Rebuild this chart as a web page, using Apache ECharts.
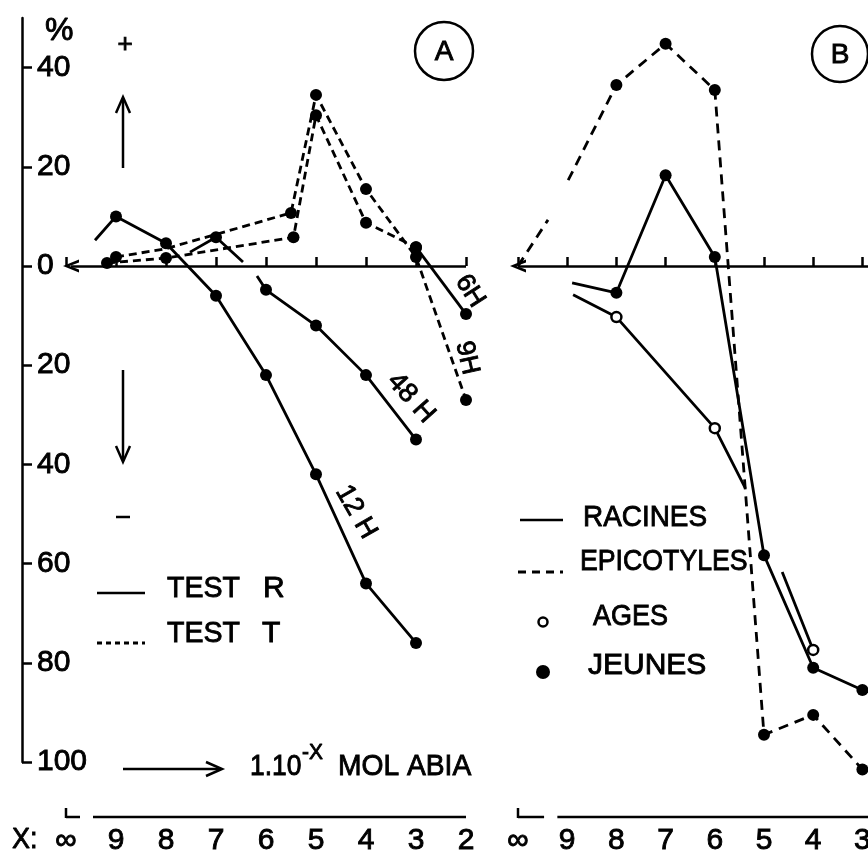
<!DOCTYPE html>
<html><head><meta charset="utf-8">
<script src="https://cdn.jsdelivr.net/npm/echarts@6/dist/echarts.min.js"></script>
<style>html,body{margin:0;padding:0;background:#fff}#c{width:868px;height:858px}</style>
</head><body><div id="c"></div>
<script>
// ---------- DATA (x = exponent X of 1.10^-X mol ABIA; 10 stands for the control "∞") ----------
const xTicks = [9, 8, 7, 6, 5, 4, 3, 2];
const yTicks = [-100, -80, -60, -40, -20, 0, 20, 40];

// Panel A - TEST R (solid)
const a12H_x = [9.42, 9, 8, 7, 6, 5, 4, 3];
const a12H_y = [5.2, 10, 4.6, -6, -22, -42, -64, -76];
const a12H_m = [0, 1, 1, 1, 1, 1, 1, 1];

const a48H_x = [7.52, 7, 6.46, 6.32, 6.18, 6, 5, 4, 3];
const a48H_y = [2.8, 5.8, 0.8, null, -2, -4.8, -12, -22, -35];
const a48H_m = [0, 1, 0, 0, 0, 1, 1, 1, 1];

const a6H_x = [3, 2];
const a6H_y = [3.8, -9.7];
const a6H_m = [1, 1];

// Panel A - TEST T (dashed)
const a9H_x = [9, 8, 5.5, 5, 4, 3, 2];
const a9H_y = [1.8, 3.5, 10.7, 34.5, 15.5, 1.8, -27];
const a9H_m = [1, 0, 1, 1, 1, 1, 1];

const aT6H_x = [9.18, 8, 5.45, 5, 4, 3];
const aT6H_y = [0.6, 1.6, 5.8, 30.4, 8.7, 3.8];
const aT6H_m = [1, 1, 1, 1, 1, 1];

// Panel B
const bEpi_x = [10, 9.39, 9.18, 8.98, 8, 7, 6, 5, 4, 3];
const bEpi_y = [0, 9.3, null, 17.3, 36.5, 44.8, 35.5, -94.5, -90.5, -101.5];
const bEpi_m = [0, 0, 0, 0, 1, 1, 1, 1, 1, 1];

const bRacJ_x = [8.9, 8, 7, 6, 5, 4, 3];
const bRacJ_y = [-3.4, -5.4, 18.3, 1.8, -58.3, -81, -85.5];
const bRacJ_m = [0, 1, 1, 1, 1, 1, 1];

const bRacA_x = [8.88, 8, 6, 5.38, 5.0, 4.63, 4];
const bRacA_y = [-5.8, -10.3, -32.7, -44.8, null, -61.7, -77.4];
const bRacA_m = [0, 1, 1, 0, 0, 0, 1];

const zeroA = [9.9, 2];
const zeroB = [10, 2];

// ---------- CHART ----------
const FONT = '"Liberation Sans", Arial, "DejaVu Sans", sans-serif';
const chart = echarts.init(document.getElementById('c'), null, {renderer: 'canvas'});
const CHEV = 'path://M0,16 L6,0 L12,16 L9.2,16 L6,6.5 L2.8,16 Z';
const EMB = 0.9; // slight emboldening of text strokes

function mkData(xs, ys, ms) {
  return xs.map((x, i) => ys[i] == null ? [x, null] :
    {value: [x, ys[i]], symbol: ms[i] ? 'circle' : 'none'});
}
function lineSeries(g, xs, ys, ms, dash, open) {
  return {
    type: 'line', xAxisIndex: g, yAxisIndex: g, data: mkData(xs, ys, ms),
    symbol: 'circle', symbolSize: open ? 10 : 12, showAllSymbol: true,
    connectNulls: false, clip: false, silent: true, animation: false,
    itemStyle: open ? {color: '#fff', borderColor: '#000', borderWidth: 2.5} : {color: '#000'},
    lineStyle: {color: '#000', width: 2.8, type: dash || 'solid'},
    z: 3
  };
}
function zeroLine(s, z) {
  s.markLine = {
    silent: true, animation: false, symbol: [CHEV, 'none'], symbolSize: [13, 16],
    label: {show: false},
    lineStyle: {color: '#000', width: 2.6, type: 'solid'},
    data: [[{coord: [z[0], 0]}, {coord: [z[1], 0]}]]
  };
  return s;
}

function xAxis(g) {
  return {
    type: 'value', gridIndex: g, min: 2, max: 10, interval: 1, inverse: true,
    position: 'bottom', offset: 55,
    axisLine: {show: false}, splitLine: {show: false},
    axisTick: {show: true, inside: true, length: 9, lineStyle: {color: '#000', width: 2.5}},
    axisLabel: {margin: 9, color: '#000', fontSize: 30, fontFamily: FONT,
      textBorderColor: '#000', textBorderWidth: EMB,
      showMinLabel: true, showMaxLabel: true,
      formatter: v => v === 10 ? '∞' : String(v)}
  };
}

chart.setOption({
  animation: false,
  backgroundColor: '#fff',
  textStyle: {fontFamily: FONT},
  grid: [
    {left: 66, top: 18, width: 400, height: 744, containLabel: false, outerBoundsMode: 'none'},
    {left: 518, top: 18, width: 393.6, height: 744, containLabel: false, outerBoundsMode: 'none'}
  ],
  xAxis: [xAxis(0), xAxis(1)],
  yAxis: [
    {type: 'value', gridIndex: 0, min: -100, max: 50, interval: 20, position: 'left', offset: 44,
     axisLine: {show: true, lineStyle: {color: '#000', width: 2.5}},
     axisTick: {show: true, inside: true, length: 10, customValues: yTicks, lineStyle: {color: '#000', width: 2.5}},
     axisLabel: {inside: true, margin: 15, color: '#000', fontSize: 30, fontFamily: FONT, customValues: yTicks,
       textBorderColor: '#000', textBorderWidth: EMB,
       formatter: v => v > 40 ? '' : String(Math.abs(v))},
     splitLine: {show: false}},
    {type: 'value', gridIndex: 1, min: -100, max: 50, interval: 20, show: false, splitLine: {show: false}}
  ],
  series: [
    zeroLine(lineSeries(0, a12H_x, a12H_y, a12H_m), zeroA),
    lineSeries(0, a48H_x, a48H_y, a48H_m),
    lineSeries(0, a6H_x, a6H_y, a6H_m),
    lineSeries(0, a9H_x, a9H_y, a9H_m, [8, 5]),
    lineSeries(0, aT6H_x, aT6H_y, aT6H_m, [8, 5]),
    zeroLine(lineSeries(1, bEpi_x, bEpi_y, bEpi_m, [10, 7]), zeroB),
    lineSeries(1, bRacJ_x, bRacJ_y, bRacJ_m),
    lineSeries(1, bRacA_x, bRacA_y, bRacA_m, null, true)
  ]
});

// ---------- ANNOTATIONS ----------
function P(g, x, y) { return chart.convertToPixel({gridIndex: g}, [x, y]); }
const axY = P(0, 9, -100)[1] + 55;
const segs = [
  [0, 10, 9.72], [0, 9.46, 2],
  [1, 10, 9.47], [1, 9.2, 2]
];
const G = [];
segs.forEach(([g, a, b]) => {
  const p1 = P(g, a, -100), p2 = P(g, b, -100);
  G.push({type: 'line', shape: {x1: p1[0], y1: axY, x2: p2[0], y2: axY},
    style: {stroke: '#000', lineWidth: 2.5}});
  if (a === 10) {
    G.push({type: 'line', shape: {x1: p1[0], y1: axY + 1, x2: p1[0], y2: axY - 9},
      style: {stroke: '#000', lineWidth: 2.5}});
  }
});
function txt(t, x, y, size, opt) {
  opt = opt || {};
  return {type: 'text', x: x, y: y, rotation: opt.rot || 0, scaleX: opt.sx || 1,
    style: {text: t, font: (size || 30) + 'px ' + FONT, fill: '#000',
      stroke: '#000', lineWidth: EMB,
      textAlign: opt.align || 'left', textVerticalAlign: 'middle'}};
}
function ln(x1, y1, x2, y2, dash, w) {
  return {type: 'line', shape: {x1, y1, x2, y2},
    style: {stroke: '#000', lineWidth: w || 2.5, lineDash: dash || null}};
}
function poly(pts) {
  return {type: 'polyline', shape: {points: pts}, style: {stroke: '#000', lineWidth: 2.5, fill: null}};
}
// panel A
G.push(txt('%', 45, 31, 32));
G.push(txt('+', 125, 45, 26, {align: 'center'}));
G.push(ln(123, 168, 123, 99)); G.push(poly([[116, 113], [123, 97], [130, 113]]));
G.push(ln(123, 370, 123, 460)); G.push(poly([[116, 446], [123, 462], [130, 446]]));
G.push(ln(116, 517, 130, 517));
G.push({type: 'circle', shape: {cx: 444, cy: 51, r: 29}, style: {fill: null, stroke: '#000', lineWidth: 2.5}});
G.push(txt('A', 444, 52, 28, {align: 'center'}));
G.push(ln(97, 593, 145, 593));
G.push(txt('TEST', 167, 589, 30, {sx: 0.95}));
G.push(txt('R', 263, 589, 30));
G.push(ln(97, 643, 145, 643, [5, 4], 3));
G.push(txt('TEST', 167, 634, 30, {sx: 0.95}));
G.push(txt('T', 262, 634, 30));
G.push(ln(123, 769, 220, 769)); G.push(poly([[206, 762], [222, 769], [206, 776]]));
G.push(txt('1.10', 250, 767, 30, {sx: 0.88}));
G.push(txt('-X', 302, 753, 22, {sx: 0.95}));
G.push(txt('MOL ABIA', 338, 767, 30, {sx: 0.94}));
G.push(txt('X:', 12, 840, 30, {sx: 0.9}));
G.push(txt('12 H', 356, 512, 27, {align: 'center', rot: -1.05}));
G.push(txt('48 H', 411, 398, 27, {align: 'center', rot: -0.84}));
G.push(txt('9H', 467, 358, 26, {align: 'center', rot: -1.35}));
G.push(txt('6H', 470, 291, 26, {align: 'center', rot: -1.0}));
// panel B
G.push({type: 'circle', shape: {cx: 840, cy: 54, r: 28}, style: {fill: null, stroke: '#000', lineWidth: 2.5}});
G.push(txt('B', 840, 55, 28, {align: 'center'}));
G.push(ln(520, 520, 563, 520));
G.push(txt('RACINES', 583, 518, 30, {sx: 0.93}));
G.push(ln(518, 572, 563, 572, [8, 6], 3));
G.push(txt('EPICOTYLES', 580, 562, 30, {sx: 0.89}));
G.push({type: 'circle', shape: {cx: 543, cy: 622, r: 4.5}, style: {fill: '#fff', stroke: '#000', lineWidth: 2.5}});
G.push(txt('AGES', 593, 617, 30, {sx: 0.9}));
G.push({type: 'circle', shape: {cx: 543, cy: 672, r: 7}, style: {fill: '#000'}});
G.push(txt('JEUNES', 588, 666, 30, {sx: 1.0}));

chart.setOption({graphic: G});
</script></body></html>
